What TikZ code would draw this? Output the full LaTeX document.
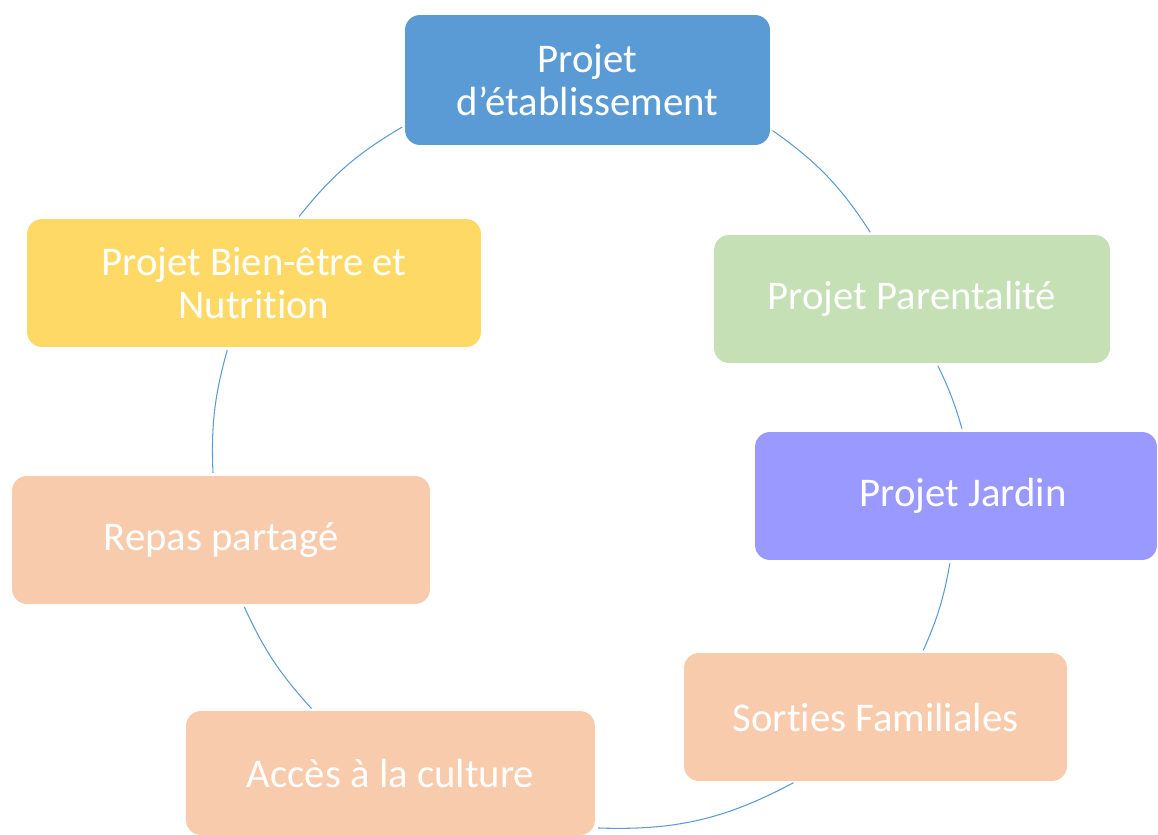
\documentclass[tikz,border=0pt]{standalone}
\usepackage{fontspec}
\setmainfont{Carlito}[Ligatures=NoCommon]
\definecolor{etabblue}{HTML}{5B9BD5}
\definecolor{parentgreen}{HTML}{C5E0B4}
\definecolor{jardinviolet}{HTML}{9999FF}
\definecolor{sortiepeach}{HTML}{F8CBAD}
\definecolor{bienyellow}{HTML}{FFD966}
\definecolor{cycleblue}{HTML}{5B9BD5}

\begin{document}
\begin{tikzpicture}[x=0.02cm,y=-0.02cm,
  projbox/.style={rounded corners=0.3cm, text=white, align=center, inner sep=0pt,
    minimum height=2.56cm, font=\fontsize{23.2}{24.5}\selectfont},
  cyc/.style={draw=cycleblue, line width=0.6pt, shorten <=1.6pt, shorten >=1.6pt}]
  \useasboundingbox (0,0) rectangle (1158,834);

  \node[projbox, fill=etabblue, minimum width=7.3cm, minimum height=2.6cm] (etab) at (587.5,80) {Projet\\d’établissement};
  \node[projbox, fill=parentgreen, minimum width=7.92cm] (parent) at (912,299) {Projet Parentalité};
  \node[projbox, fill=jardinviolet, minimum width=8.04cm] (jardin) at (956,496) {\hspace{8pt}Projet Jardin};
  \node[projbox, fill=sortiepeach, minimum width=7.66cm] (sorties) at (875.5,717) {Sorties Familiales};
  \node[projbox, fill=sortiepeach, minimum width=8.18cm, minimum height=2.48cm] (culture) at (390.5,773) {Accès à la culture};
  \node[projbox, fill=sortiepeach, minimum width=8.36cm] (repas) at (221,540) {Repas partagé};
  \node[projbox, fill=bienyellow, minimum width=9.08cm] (bien) at (254,283) {Projet Bien-être et\\Nutrition};

  \draw[cyc] (etab.-15) to[bend left=11] (parent.122);
  \draw[cyc] (parent.-69.5) to[bend left=5] (jardin.84);
  \draw[cyc] (jardin.-95) to[bend left=7] (sorties.54.5);
  \draw[cyc] (sorties.219.8) to[bend left=15] (culture.-15.5);
  \draw[cyc] (culture.141) to[bend left=9] (repas.-71.8);
  \draw[cyc] (repas.97.5) to[bend left=9] (bien.248.6);
  \draw[cyc] (bien.56.3) to[bend left=10.5] (etab.194.9);
\end{tikzpicture}
\end{document}
